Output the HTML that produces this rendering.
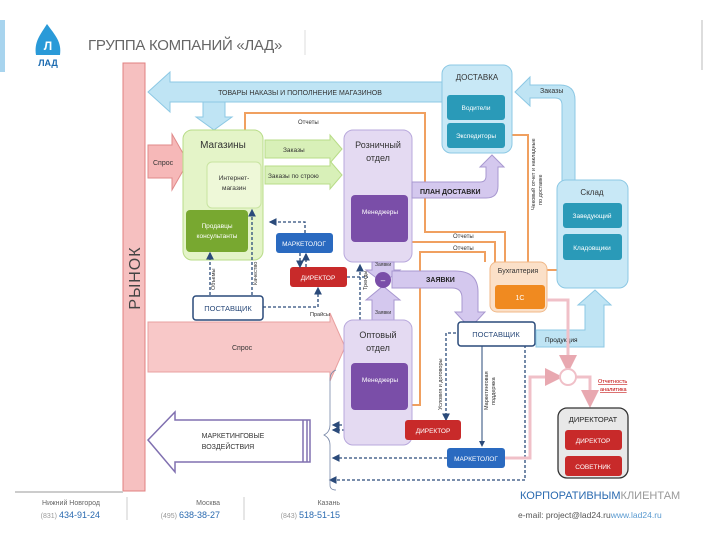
<!DOCTYPE html>
<html><head><meta charset="utf-8"><style>
html,body{margin:0;padding:0;background:#fff;width:720px;height:540px;overflow:hidden}
svg text{font-family:"Liberation Sans",sans-serif}
</style></head><body>
<svg width="720" height="540" viewBox="0 0 720 540" xmlns="http://www.w3.org/2000/svg">
<defs>
<marker id="ah" markerWidth="6" markerHeight="6" refX="5" refY="3" orient="auto"><path d="M0,0 L6,3 L0,6z" fill="#2a4a7a"/></marker>
<marker id="ahp" markerWidth="6" markerHeight="6" refX="5" refY="3" orient="auto"><path d="M0,0 L6,3 L0,6z" fill="#e8a8b0"/></marker>
</defs>
<!-- header -->
<rect x="0" y="20" width="5" height="52" fill="#a8d4ee"/>
<path d="M47,24 C40,35 34,42 36,55 L60,55 C62,42 55,35 47,24z" fill="#2a9ad8"/>
<text x="48" y="50" font-size="12" fill="#fff" text-anchor="middle" font-weight="bold">Л</text>
<text x="48" y="66" font-size="9" fill="#1a6ab0" text-anchor="middle" font-weight="bold">ЛАД</text>
<text x="88" y="50" font-size="15" fill="#666" letter-spacing="-0.3">ГРУППА КОМПАНИЙ «ЛАД»</text>
<line x1="305" y1="30" x2="305" y2="55" stroke="#ddd"/>
<line x1="702" y1="20" x2="702" y2="70" stroke="#ddd" stroke-width="2"/>
<!-- РЫНОК -->
<rect x="123" y="63" width="22" height="428" fill="#f6c0c0" stroke="#e08080"/>
<text transform="translate(140,278) rotate(-90)" font-size="16" fill="#444" text-anchor="middle" letter-spacing="1">РЫНОК</text>
<!-- top arrow -->
<path d="M148,92 L170,72 L170,82 L442,82 L442,102 L170,102 L170,112z" fill="#bfe4f4" stroke="#8cc8e4"/>
<text x="300" y="95" font-size="7" fill="#333" text-anchor="middle">ТОВАРЫ НАКАЗЫ И ПОПОЛНЕНИЕ МАГАЗИНОВ</text>
<path d="M203,102 L225,102 L225,117 L232,117 L214,130 L196,117 L203,117z" fill="#bfe4f4" stroke="#8cc8e4"/>
<!-- Заказы curved -->
<path d="M575,185 L575,100 Q575,85 560,85 L530,85 L530,77 L515,92 L530,106 L530,98 L555,98 Q562,98 562,105 L562,185z" fill="#bfe4f4" stroke="#8cc8e4"/>
<text x="540" y="93" font-size="7" fill="#333">Заказы</text>
<!-- orange lines -->
<g fill="none" stroke="#f0a060" stroke-width="2">
<path d="M245,130 L245,113 L425,113 L425,232 L505,232 L505,262"/>
<path d="M505,135 L528,135 L528,262"/>
<path d="M412,242 L495,242 L495,262"/>
<path d="M412,405 L420,405 L420,252 L485,252 L485,262"/>
<path d="M557,270 L535,270 L535,262"/>
</g>
<text x="298" y="124" font-size="6" fill="#333">Отчеты</text>
<text x="453" y="238" font-size="6" fill="#333">Отчеты</text>
<text x="453" y="250" font-size="6" fill="#333">Отчеты</text>
<text transform="translate(535,210) rotate(-90)" font-size="5.5" fill="#333">Чековый отчет и накладные</text>
<text transform="translate(542,205) rotate(-90)" font-size="5.5" fill="#333">по доставке</text>
<!-- ДОСТАВКА -->
<rect x="442" y="65" width="70" height="88" rx="9" fill="#c8e8f6" stroke="#8cc8e4"/>
<text x="477" y="80" font-size="8" fill="#333" text-anchor="middle">ДОСТАВКА</text>
<rect x="447" y="95" width="58" height="25" rx="3" fill="#2a9ab8"/>
<text x="476" y="110" font-size="6.5" fill="#fff" text-anchor="middle">Водители</text>
<rect x="447" y="123" width="58" height="25" rx="3" fill="#2a9ab8"/>
<text x="476" y="138" font-size="6.5" fill="#fff" text-anchor="middle">Экспедиторы</text>
<!-- Склад -->
<rect x="557" y="180" width="71" height="108" rx="9" fill="#c8e8f6" stroke="#8cc8e4"/>
<text x="592" y="195" font-size="8" fill="#333" text-anchor="middle">Склад</text>
<rect x="563" y="203" width="59" height="25" rx="3" fill="#2a9ab8"/>
<text x="592" y="218" font-size="6.5" fill="#fff" text-anchor="middle">Заведующий</text>
<rect x="563" y="234" width="59" height="26" rx="3" fill="#2a9ab8"/>
<text x="592" y="250" font-size="6.5" fill="#fff" text-anchor="middle">Кладовщики</text>
<!-- Спрос small -->
<path d="M148,145 L172,145 L172,134 L188,162 L172,190 L172,178 L148,178z" fill="#f6b8b8" stroke="#e08a8a"/>
<text x="153" y="165" font-size="7" fill="#333">Спрос</text>
<!-- Магазины -->
<rect x="183" y="130" width="80" height="130" rx="9" fill="#e4f4c8" stroke="#b8dc88"/>
<text x="223" y="148" font-size="10" fill="#333" text-anchor="middle">Магазины</text>
<rect x="207" y="162" width="54" height="46" rx="5" fill="#eef8d8" stroke="#c8e4a0"/>
<text x="234" y="180" font-size="6.5" fill="#333" text-anchor="middle">Интернет-</text>
<text x="234" y="190" font-size="6.5" fill="#333" text-anchor="middle">магазин</text>
<rect x="186" y="210" width="62" height="42" rx="4" fill="#78a830"/>
<text x="217" y="228" font-size="6.5" fill="#fff" text-anchor="middle">Продавцы</text>
<text x="217" y="238" font-size="6.5" fill="#fff" text-anchor="middle">консультанты</text>
<!-- green arrows -->
<path d="M265,140 L330,140 L330,135 L342,149 L330,163 L330,158 L265,158z" fill="#d8f0b8" stroke="#b8dc88"/>
<text x="283" y="152" font-size="6.5" fill="#333">Заказы</text>
<path d="M265,166 L330,166 L330,161 L342,175 L330,189 L330,184 L265,184z" fill="#d8f0b8" stroke="#b8dc88"/>
<text x="268" y="178" font-size="6.5" fill="#333">Заказы по строю</text>
<!-- Розничный -->
<rect x="344" y="130" width="68" height="132" rx="9" fill="#e4daf2" stroke="#b8a8dc"/>
<text x="378" y="148" font-size="9" fill="#333" text-anchor="middle">Розничный</text>
<text x="378" y="161" font-size="9" fill="#333" text-anchor="middle">отдел</text>
<rect x="351" y="195" width="57" height="47" rx="4" fill="#7a4ea8"/>
<text x="380" y="214" font-size="6.5" fill="#fff" text-anchor="middle">Менеджеры</text>
<!-- План доставки -->
<path d="M412,182 L480,182 Q486,182 486,176 L486,167 L480,167 L492,155 L504,167 L498,167 L498,186 Q498,198 486,198 L412,198z" fill="#d4c8ee" stroke="#a898d0"/>
<text x="420" y="194" font-size="7" fill="#222" font-weight="bold">ПЛАН ДОСТАВКИ</text>
<!-- Маркетолог/директор mid -->
<rect x="276" y="233" width="57" height="20" rx="3" fill="#2a6ac0"/>
<text x="304" y="246" font-size="6.5" fill="#fff" text-anchor="middle">МАРКЕТОЛОГ</text>
<rect x="290" y="267" width="57" height="20" rx="3" fill="#c82a2a"/>
<text x="318" y="280" font-size="6.5" fill="#fff" text-anchor="middle">ДИРЕКТОР</text>
<g fill="none" stroke="#2a4a7a" stroke-width="1.3" stroke-dasharray="3,2">
<path d="M305,233 L305,222 L270,222" marker-end="url(#ah)"/>
<path d="M300,253 L300,267" marker-end="url(#ah)"/>
<path d="M306,267 L306,254" marker-end="url(#ah)"/>
<path d="M210,295 L210,253" marker-end="url(#ah)"/>
<path d="M252,295 L252,210" marker-end="url(#ah)"/>
<path d="M263,307 L318,307 L318,288" marker-end="url(#ah)"/>
<path d="M347,277 L368,277"/>
<path d="M360,320 L360,265" marker-end="url(#ah)"/>
<path d="M456,333 L446,333 L446,420" marker-end="url(#ah)"/>
<path d="M525,345 L525,480 L330,480" marker-end="url(#ah)"/>
<path d="M382,410 L382,425 L333,425" marker-end="url(#ah)"/>
<path d="M405,430 L333,430" marker-end="url(#ah)"/>
<path d="M447,458 L333,458" marker-end="url(#ah)"/>
</g>
<line x1="482" y1="345" x2="482" y2="446" stroke="#2a4a7a" stroke-width="1" marker-end="url(#ah)"/>
<text transform="translate(215,290) rotate(-90)" font-size="5.5" fill="#333">Объемы</text>
<text transform="translate(257,285) rotate(-90)" font-size="5.5" fill="#333">Качество</text>
<text x="310" y="316" font-size="5.5" fill="#333">Прайсы</text>
<text transform="translate(367,290) rotate(-90)" font-size="5.5" fill="#333">Тренды</text>
<text transform="translate(442,410) rotate(-90)" font-size="5.5" fill="#333">Условия и договоры</text>
<text transform="translate(488,410) rotate(-90)" font-size="5.5" fill="#333">Маркетинговая</text>
<text transform="translate(495,405) rotate(-90)" font-size="5.5" fill="#333">поддержка</text>
<!-- Заявки arrows -->
<path d="M372,262 L394,262 L394,270 L400,270 L383,283 L366,270 L372,270z" fill="#d4c8ee" stroke="#a898d0"/>
<text x="375" y="266" font-size="5" fill="#333">Заявки</text>
<path d="M372,320 L394,320 L394,300 L400,300 L383,286 L366,300 L372,300z" fill="#d4c8ee" stroke="#a898d0"/>
<text x="375" y="314" font-size="5" fill="#333">Заявки</text>
<circle cx="383" cy="280" r="8" fill="#7a4ea8"/>
<text x="383" y="283" font-size="8" fill="#fff" text-anchor="middle">–</text>
<path d="M392,271 L455,271 Q478,271 478,292 L478,312 L485,312 L470,328 L455,312 L462,312 L462,298 Q462,288 452,288 L392,288z" fill="#d4c8ee" stroke="#a898d0"/>
<text x="426" y="282" font-size="7" fill="#222" font-weight="bold">ЗАЯВКИ</text>
<!-- Бухгалтерия -->
<rect x="490" y="262" width="57" height="50" rx="7" fill="#fbe0c8" stroke="#f0b888"/>
<text x="518" y="273" font-size="7" fill="#333" text-anchor="middle">Бухгалтерия</text>
<rect x="495" y="285" width="50" height="24" rx="3" fill="#f08a20"/>
<text x="520" y="300" font-size="7" fill="#fff" text-anchor="middle">1С</text>
<!-- ПОСТАВЩИК left -->
<rect x="193" y="296" width="70" height="24" rx="3" fill="#fff" stroke="#2a4a7a" stroke-width="1.5"/>
<text x="228" y="311" font-size="7.5" fill="#2a4a7a" text-anchor="middle">ПОСТАВЩИК</text>
<!-- Big Спрос -->
<path d="M148,322 L330,322 L330,313 L345,347 L330,381 L330,372 L148,372z" fill="#f8c8c8" stroke="#e8a0a0"/>
<text x="232" y="350" font-size="7" fill="#333">Спрос</text>
<!-- Оптовый -->
<rect x="344" y="320" width="68" height="125" rx="9" fill="#e4daf2" stroke="#b8a8dc"/>
<text x="378" y="338" font-size="9" fill="#333" text-anchor="middle">Оптовый</text>
<text x="378" y="351" font-size="9" fill="#333" text-anchor="middle">отдел</text>
<rect x="351" y="363" width="57" height="47" rx="4" fill="#7a4ea8"/>
<text x="380" y="382" font-size="6.5" fill="#fff" text-anchor="middle">Менеджеры</text>
<!-- ПОСТАВЩИК right -->
<rect x="458" y="322" width="77" height="24" rx="3" fill="#fff" stroke="#2a4a7a" stroke-width="1.5"/>
<text x="496" y="337" font-size="7.5" fill="#2a4a7a" text-anchor="middle">ПОСТАВЩИК</text>
<!-- Продукция -->
<path d="M536,330 L585,330 L585,305 L578,305 L595,290 L611,305 L604,305 L604,347 L536,347z" fill="#bfe4f4" stroke="#8cc8e4"/>
<text x="545" y="342" font-size="6.5" fill="#222">Продукция</text>
<!-- pink lines -->
<g fill="none" stroke="#f0c0c8" stroke-width="3">
<path d="M547,300 L568,300 L568,370" marker-end="url(#ahp)"/>
<path d="M505,458 L530,458 L530,377 L560,377" marker-end="url(#ahp)"/>
<path d="M576,377 L590,377 L590,405" marker-end="url(#ahp)"/>
</g>
<circle cx="568" cy="377" r="8" fill="#fff" stroke="#f0c0c8" stroke-width="2"/>
<text x="598" y="383" font-size="5.5" fill="#c00000" text-decoration="underline">Отчетность</text>
<text x="600" y="391" font-size="5.5" fill="#c00000" text-decoration="underline">аналитика</text>
<!-- ДИРЕКТОРАТ -->
<rect x="558" y="408" width="70" height="70" rx="9" fill="#e8e8e8" stroke="#333" stroke-width="1.3"/>
<text x="593" y="422" font-size="7.5" fill="#222" text-anchor="middle">ДИРЕКТОРАТ</text>
<rect x="565" y="430" width="57" height="20" rx="3" fill="#c82a2a"/>
<text x="593" y="443" font-size="6.5" fill="#fff" text-anchor="middle">ДИРЕКТОР</text>
<rect x="565" y="456" width="57" height="20" rx="3" fill="#c82a2a"/>
<text x="593" y="469" font-size="6.5" fill="#fff" text-anchor="middle">СОВЕТНИК</text>
<!-- bottom ДИРЕКТОР/МАРКЕТОЛОГ -->
<rect x="405" y="420" width="56" height="20" rx="3" fill="#c82a2a"/>
<text x="433" y="433" font-size="6.5" fill="#fff" text-anchor="middle">ДИРЕКТОР</text>
<rect x="447" y="448" width="58" height="20" rx="3" fill="#2a6ac0"/>
<text x="476" y="461" font-size="6.5" fill="#fff" text-anchor="middle">МАРКЕТОЛОГ</text>
<!-- brace -->
<path d="M336,370 Q330,372 330,380 L330,425 Q330,432 324,435 Q330,438 330,445 L330,485 Q330,490 336,490" fill="none" stroke="#7888a8" stroke-width="0.8"/>
<!-- Маркетинговые воздействия -->
<path d="M148,440 L175,412 L175,420 L310,420 L310,462 L175,462 L175,472z" fill="#fff" stroke="#8070b0" stroke-width="1.5"/>
<line x1="303" y1="420" x2="303" y2="462" stroke="#8070b0" stroke-width="1.5"/>
<line x1="307" y1="420" x2="307" y2="462" stroke="#8070b0" stroke-width="1.5"/>
<text x="233" y="438" font-size="7" fill="#333" text-anchor="middle">МАРКЕТИНГОВЫЕ</text>
<text x="228" y="449" font-size="7" fill="#333" text-anchor="middle">ВОЗДЕЙСТВИЯ</text>
<!-- footer -->
<line x1="15" y1="492" x2="123" y2="492" stroke="#ccc" stroke-width="2"/>
<line x1="127" y1="497" x2="127" y2="520" stroke="#ccc"/>
<line x1="244" y1="497" x2="244" y2="520" stroke="#ccc"/>
<text x="100" y="505" font-size="7" fill="#666" text-anchor="end">Нижний Новгород</text>
<text x="100" y="518" font-size="9" fill="#2a6ab0" text-anchor="end"><tspan fill="#999" font-size="7">(831) </tspan>434-91-24</text>
<text x="220" y="505" font-size="7" fill="#666" text-anchor="end">Москва</text>
<text x="220" y="518" font-size="9" fill="#2a6ab0" text-anchor="end"><tspan fill="#999" font-size="7">(495) </tspan>638-38-27</text>
<text x="340" y="505" font-size="7" fill="#666" text-anchor="end">Казань</text>
<text x="340" y="518" font-size="9" fill="#2a6ab0" text-anchor="end"><tspan fill="#999" font-size="7">(843) </tspan>518-51-15</text>
<text x="520" y="499" font-size="11" fill="#2a6ab0">КОРПОРАТИВНЫМ<tspan fill="#999">КЛИЕНТАМ</tspan></text>
<text x="518" y="518" font-size="8.5" fill="#555">e-mail: project@lad24.ru<tspan fill="#5a9ad0">www.lad24.ru</tspan></text>
</svg>
</body></html>
